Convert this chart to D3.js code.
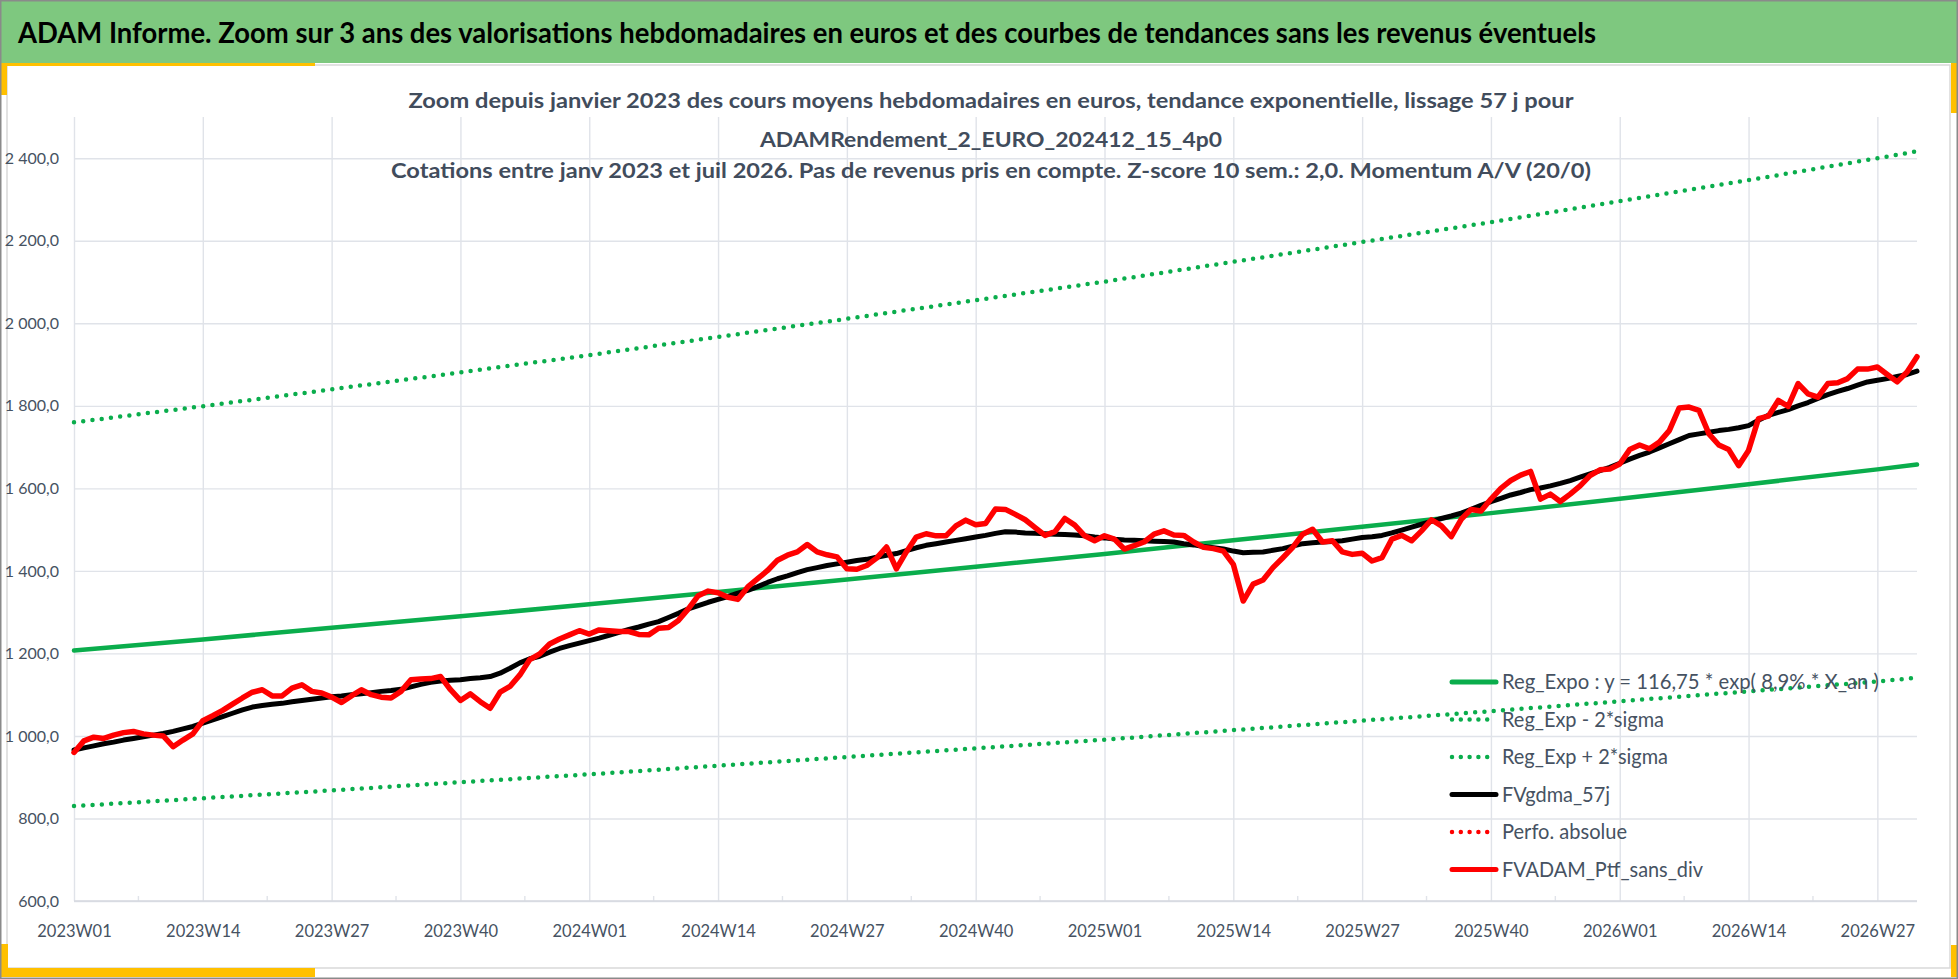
<!DOCTYPE html>
<html lang="fr">
<head>
	<meta charset="UTF-8">
	<title>ADAM Informe - zoom 3 ans</title>
	<style>
		html, body { margin: 0; padding: 0; background: #fff; }
		svg { display: block; }
	</style>
</head>
<body>

<script src="https://cdn.jsdelivr.net/npm/d3@7"></script>

<script type="text/javascript">

	var width = 1958,
		height = 979;

	// weekly categories : 2023W01 .. 2026W31
	var years = [ 2023, 2024, 2025, 2026 ],
		weeksInYear = [ 52, 52, 52, 31 ];

	var tickLabels = [ "2023W01", "2023W14", "2023W27", "2023W40", "2024W01", "2024W14", "2024W27",
		"2024W40", "2025W01", "2025W14", "2025W27", "2025W40", "2026W01", "2026W14", "2026W27" ];

	var yTicks = [ 600, 800, 1000, 1200, 1400, 1600, 1800, 2000, 2200, 2400 ];

	// trend curves, read at the labelled weeks + last week
	var trendWeeks = tickLabels.concat([ "2026W31" ]);
	var regExpo  = [ 1207, 1234, 1262, 1290, 1319, 1349, 1379, 1410, 1441, 1474, 1507, 1540, 1575, 1610, 1646, 1658 ];
	var regMinus = [ 830, 849, 868, 888, 907, 928, 949, 970, 991, 1014, 1037, 1060, 1084, 1108, 1132, 1141 ];
	var regPlus  = [ 1760, 1799, 1840, 1881, 1923, 1967, 2011, 2056, 2101, 2149, 2197, 2245, 2296, 2347, 2400, 2417 ];

	// FVgdma_57j, one value per week
	var gdma57 = [
		966, 971, 976, 981, 985, 990, 994, 998, 1002, 1006, 1011, 1017, 1023,
		1031, 1039, 1047, 1055, 1063, 1070, 1074, 1077, 1079, 1083, 1086, 1089, 1092,
		1095, 1097, 1100, 1102, 1105, 1108, 1110, 1113, 1119, 1125, 1130, 1133, 1135,
		1136, 1139, 1141, 1144, 1152, 1164, 1177, 1187, 1193, 1203, 1212, 1219, 1225,
		1231, 1237, 1244, 1251, 1258, 1264, 1271, 1277, 1287, 1297, 1308, 1316, 1324,
		1331, 1338, 1346, 1353, 1362, 1372, 1381, 1388, 1396, 1403, 1408, 1413, 1417,
		1421, 1425, 1428, 1433, 1438, 1442, 1449, 1456, 1462, 1466, 1470, 1474, 1478,
		1482, 1486, 1491, 1495, 1494, 1492, 1491, 1490, 1489, 1488, 1487, 1485, 1482,
		1480, 1477, 1475, 1474, 1473, 1472, 1471, 1470, 1466, 1463, 1459, 1456, 1453,
		1448, 1444, 1445, 1446, 1450, 1454, 1460, 1466, 1468, 1470, 1471, 1473, 1477,
		1481, 1483, 1486, 1492, 1499, 1506, 1513, 1520, 1527, 1533, 1540, 1549, 1559,
		1568, 1576, 1584, 1590, 1597, 1601, 1606, 1612, 1619, 1627, 1635, 1643, 1651,
		1661, 1671, 1680, 1688, 1698, 1708, 1718, 1728, 1732, 1736, 1740, 1743, 1747,
		1752, 1765, 1777, 1784, 1791, 1800, 1808, 1818, 1827, 1835, 1842, 1850, 1858,
		1862, 1866, 1871, 1876, 1884
	];

	// FVADAM_Ptf_sans_div, one value per week
	var ptfSansDiv = [
		960, 988, 997, 994, 1002, 1008, 1011, 1005, 1002, 1000, 974, 990, 1005,
		1037, 1049, 1062, 1077, 1092, 1106, 1112, 1097, 1097, 1116, 1124, 1108, 1104,
		1094, 1081, 1097, 1112, 1100, 1094, 1092, 1108, 1136, 1138, 1139, 1144, 1112,
		1086, 1102, 1083, 1067, 1106, 1120, 1148, 1185, 1199, 1223, 1235, 1245, 1255,
		1247, 1257, 1255, 1253, 1253, 1246, 1245, 1261, 1263, 1280, 1308, 1340, 1351,
		1347, 1336, 1331, 1361, 1381, 1401, 1426, 1438, 1446, 1464, 1446, 1439, 1434,
		1405, 1404, 1413, 1431, 1458, 1405, 1446, 1482, 1490, 1485, 1485, 1509, 1523,
		1512, 1515, 1550, 1549, 1537, 1524, 1505, 1486, 1495, 1527, 1511, 1485, 1473,
		1485, 1477, 1453, 1461, 1470, 1489, 1497, 1487, 1486, 1470, 1457, 1454, 1448,
		1416, 1327, 1368, 1378, 1408, 1432, 1457, 1489, 1501, 1470, 1473, 1446, 1440,
		1443, 1424, 1432, 1477, 1486, 1473, 1497, 1524, 1509, 1483, 1525, 1549, 1545,
		1574, 1600, 1619, 1632, 1641, 1574, 1586, 1568, 1586, 1606, 1631, 1645, 1647,
		1659, 1694, 1705, 1696, 1712, 1740, 1795, 1797, 1789, 1732, 1705, 1694, 1655,
		1692, 1769, 1775, 1813, 1799, 1854, 1829, 1821, 1854, 1856, 1866, 1889, 1889,
		1894, 1876, 1858, 1882, 1919
	];

	var legendLabels = [ "Reg_Expo : y = 116,75 * exp( 8,9% * X_an )", "Reg_Exp - 2*sigma", "Reg_Exp + 2*sigma",
		"FVgdma_57j", "Perfo. absolue", "FVADAM_Ptf_sans_div" ];

	var headerTitle = "ADAM Informe. Zoom sur 3 ans des valorisations hebdomadaires en euros et des courbes de tendances sans les revenus éventuels";
	var chartTitle = [
		"Zoom depuis janvier 2023 des cours moyens hebdomadaires  en euros, tendance exponentielle, lissage 57 j pour",
		"ADAMRendement_2_EURO_202412_15_4p0",
		"Cotations  entre janv 2023 et juil 2026. Pas de revenus pris en compte. Z-score 10 sem.: 2,0. Momentum  A/V (20/0)"
	];


	var green = "#0aad4c",
		red = "#ff0000",
		yellow = "#ffc000",
		gridColor = "#e0e3e9",
		textColor = "#465262",
		font = "Lato, 'Open Sans', sans-serif";

	var plot = { left: 74, right: 1917, top: 117, bottom: 901 };

	var weeks = [];
	years.forEach(function(yr, i) {
		for (var w = 1; w <= weeksInYear[i]; w++) {
			weeks.push(yr + "W" + (w < 10 ? "0" : "") + w);
		}
	});

	var svg = d3.select("body").append("svg")
		.attr("width", width)
		.attr("height", height)
		.style("font-family", font);

	// ---- frame and decorations ----
	svg.append("rect").attr("width", width).attr("height", height).attr("fill", "#fff");

	svg.append("rect")
		.attr("x", 7).attr("y", 65).attr("width", 1943).attr("height", 903)
		.attr("fill", "none").attr("stroke", "#d9d9d9").attr("stroke-width", 1.5);

	svg.append("rect").attr("x", 0).attr("y", 0).attr("width", width).attr("height", 63)
		.attr("fill", "#7ec87f");

	svg.append("text")
		.attr("x", 18).attr("y", 43)
		.attr("textLength", 1578).attr("lengthAdjust", "spacingAndGlyphs")
		.style("font-size", "29px").style("font-weight", "bold").attr("fill", "#000")
		.text(headerTitle);

	// yellow accents
	[ [0, 63, 315, 3], [0, 63, 7, 32], [0, 944, 8, 33], [0, 968, 315, 9], [1951, 63, 7, 50], [1951, 945, 7, 32] ]
		.forEach(function(r) {
			svg.append("rect").attr("x", r[0]).attr("y", r[1]).attr("width", r[2]).attr("height", r[3])
				.attr("fill", yellow);
		});

	svg.append("rect")
		.attr("x", 0.75).attr("y", 0.75).attr("width", width - 1.5).attr("height", height - 1.5)
		.attr("fill", "none").attr("stroke", "#8a8a8a").attr("stroke-width", 1.5);

	// ---- scales ----
	var x = d3.scalePoint().domain(weeks).range([ plot.left, plot.right ]);
	var y = d3.scaleLinear().domain([ 600, 2500 ]).range([ plot.bottom, plot.top ]);

	var frLocale = d3.formatLocale({ decimal: ",", thousands: "\u00a0", grouping: [3], currency: ["", " €"] });
	var fmt = frLocale.format(",.1f");

	// ---- axes / gridlines ----
	var gy = svg.append("g")
		.attr("transform", "translate(" + plot.left + ",0)")
		.call(d3.axisLeft(y).tickValues(yTicks).tickFormat(fmt)
			.tickSize(-(plot.right - plot.left)).tickPadding(15));
	gy.select(".domain").remove();
	gy.selectAll(".tick line").attr("stroke", gridColor).attr("stroke-width", 1.4);
	gy.selectAll(".tick text").attr("fill", textColor).style("font-size", "16px").style("font-family", font);

	var gx = svg.append("g")
		.attr("transform", "translate(0," + plot.bottom + ")")
		.call(d3.axisBottom(x).tickValues(tickLabels).tickSize(-(plot.bottom - plot.top)));
	gx.select(".domain").remove();
	gx.selectAll(".tick line").attr("stroke", gridColor).attr("stroke-width", 1.4);
	gx.selectAll(".tick text")
		.attr("y", 30).attr("dy", "0.35em")
		.attr("fill", textColor).style("font-size", "16.5px").style("font-family", font);

	// minor ticks between labelled weeks
	svg.append("g").selectAll("line")
		.data(d3.pairs(tickLabels))
		.enter().append("line")
		.attr("x1", function(p) { return (x(p[0]) + x(p[1])) / 2; })
		.attr("x2", function(p) { return (x(p[0]) + x(p[1])) / 2; })
		.attr("y1", plot.bottom).attr("y2", plot.bottom - 5)
		.attr("stroke", gridColor).attr("stroke-width", 1.4);

	svg.append("line")
		.attr("x1", plot.left).attr("x2", plot.right)
		.attr("y1", plot.bottom).attr("y2", plot.bottom)
		.attr("stroke", "#d6d9df").attr("stroke-width", 1.6);

	// ---- chart title ----
	var titleLengths = [ 1165, 462, 1200 ];
	svg.append("g").selectAll("text")
		.data(chartTitle)
		.enter().append("text")
		.attr("x", 991)
		.attr("y", function(d, i) { return [ 108, 147, 178 ][i]; })
		.attr("text-anchor", "middle")
		.attr("textLength", function(d, i) { return titleLengths[i]; })
		.attr("lengthAdjust", "spacingAndGlyphs")
		.attr("fill", "#414c5c")
		.style("font-size", "21px").style("font-weight", "bold")
		.text(function(d) { return d; });

	// ---- series ----
	function trendPoints(values) {
		return values.map(function(v, i) { return { week: trendWeeks[i], v: v }; });
	}
	function weeklyPoints(values) {
		return values.map(function(v, i) { return { week: weeks[i], v: v }; });
	}

	var line = d3.line()
		.x(function(d) { return x(d.week); })
		.y(function(d) { return y(d.v); });

	var series = [
		{ pts: trendPoints(regExpo), color: green, width: 4.5, dotted: false },
		{ pts: trendPoints(regMinus), color: green, width: 4.5, dotted: true },
		{ pts: trendPoints(regPlus), color: green, width: 4.5, dotted: true },
		{ pts: weeklyPoints(gdma57), color: "#000", width: 5, dotted: false },
		{ pts: weeklyPoints(ptfSansDiv), color: red, width: 5.5, dotted: false }
	];

	series.forEach(function(s) {
		svg.append("path")
			.datum(s.pts)
			.attr("d", line)
			.attr("fill", "none")
			.attr("stroke", s.color)
			.attr("stroke-width", s.width)
			.attr("stroke-linejoin", "round")
			.attr("stroke-linecap", "round")
			.attr("stroke-dasharray", s.dotted ? "0 9.3" : null);
	});

	// ---- legend ----
	var legendColors = [ green, green, green, "#000", red, red ],
		legendDotted = [ false, true, true, false, true, false ],
		legendLengths = [ 377, 162, 166, 108, 125, 201 ];

	var legend = svg.append("g");
	legendLabels.forEach(function(label, i) {
		var ly = 682 + i * 37.5;
		legend.append("line")
			.attr("x1", 1452).attr("x2", 1496)
			.attr("y1", ly).attr("y2", ly)
			.attr("stroke", legendColors[i])
			.attr("stroke-width", legendDotted[i] ? 4.5 : 5)
			.attr("stroke-linecap", "round")
			.attr("stroke-dasharray", legendDotted[i] ? "0 8.8" : null);
		legend.append("text")
			.attr("x", 1502).attr("y", ly).attr("dy", "0.35em")
			.attr("textLength", legendLengths[i]).attr("lengthAdjust", "spacingAndGlyphs")
			.attr("fill", textColor)
			.style("font-size", "21px")
			.text(label);
	});

</script>
</body>
</html>
